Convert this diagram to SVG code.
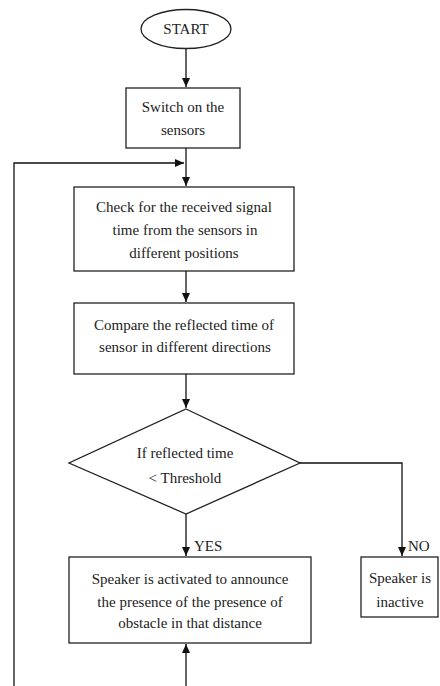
<svg xmlns="http://www.w3.org/2000/svg" width="440" height="686" viewBox="0 0 440 686">
<style>
.box{fill:#fff;stroke:#222;stroke-width:1.3}
.ln{fill:none;stroke:#111;stroke-width:1.3}
.t{font-family:'Liberation Serif','DejaVu Serif','Times New Roman',serif;font-size:15px;fill:#222;text-anchor:middle}
.lbl{text-anchor:start}
</style>
<defs>
<marker id="ah" markerWidth="10" markerHeight="10" refX="9" refY="5" orient="auto" markerUnits="userSpaceOnUse">
<path d="M0,1 L9,5 L0,9 z" fill="#111"/>
</marker>
</defs>
<rect width="440" height="686" fill="#fff"/>
<g id="connectors">
<line class="ln" x1="186" y1="48" x2="186" y2="87" marker-end="url(#ah)"/>
<line class="ln" x1="186" y1="148" x2="186" y2="186" marker-end="url(#ah)"/>
<polyline class="ln" points="14,686 14,163 184,163" marker-end="url(#ah)"/>
<line class="ln" x1="186" y1="271" x2="186" y2="302" marker-end="url(#ah)"/>
<line class="ln" x1="186" y1="374" x2="186" y2="408" marker-end="url(#ah)"/>
<line class="ln" x1="186" y1="514" x2="186" y2="556" marker-end="url(#ah)"/>
<polyline class="ln" points="300,463 402,463 402,556" marker-end="url(#ah)"/>
<line class="ln" x1="186" y1="686" x2="186" y2="644" marker-end="url(#ah)"/>
<text class="t lbl" x="194" y="551" font-family="Liberation Serif, serif">YES</text>
<text class="t lbl" x="408" y="551" font-family="Liberation Serif, serif">NO</text>
</g>
<g id="start">
<ellipse class="box" cx="186" cy="29" rx="45" ry="19.5"/>
<text class="t" x="186" y="34" font-family="Liberation Serif, serif">START</text>
</g>
<g id="switch">
<rect class="box" x="126" y="88" width="114" height="60"/>
<text class="t" x="183" y="112" font-family="Liberation Serif, serif">Switch on the</text>
<text class="t" x="183" y="135" font-family="Liberation Serif, serif">sensors</text>
</g>
<g id="check">
<rect class="box" x="74" y="187" width="220" height="84"/>
<text class="t" x="184" y="212" font-family="Liberation Serif, serif">Check for the received signal</text>
<text class="t" x="185" y="235" font-family="Liberation Serif, serif">time from the sensors in</text>
<text class="t" x="184" y="258" font-family="Liberation Serif, serif">different positions</text>
</g>
<g id="compare">
<rect class="box" x="74" y="303" width="220" height="71"/>
<text class="t" x="184" y="330" font-family="Liberation Serif, serif">Compare the reflected time of</text>
<text class="t" x="185" y="352" font-family="Liberation Serif, serif">sensor in different directions</text>
</g>
<g id="decision">
<polygon class="box" points="186,409 300,463 186,514 69,463"/>
<text class="t" x="185" y="458" font-family="Liberation Serif, serif">If reflected time</text>
<text class="t" x="185" y="483" font-family="Liberation Serif, serif">&lt; Threshold</text>
</g>
<g id="active">
<rect class="box" x="69" y="557" width="242" height="86"/>
<text class="t" x="190" y="584" font-family="Liberation Serif, serif">Speaker is activated to announce</text>
<text class="t" x="190" y="607" font-family="Liberation Serif, serif">the presence of the presence of</text>
<text class="t" x="190" y="628" font-family="Liberation Serif, serif">obstacle in that distance</text>
</g>
<g id="inactive">
<rect class="box" x="361" y="557" width="77" height="60"/>
<text class="t" x="400" y="583" font-family="Liberation Serif, serif">Speaker is</text>
<text class="t" x="400" y="607" font-family="Liberation Serif, serif">inactive</text>
</g>
</svg>
